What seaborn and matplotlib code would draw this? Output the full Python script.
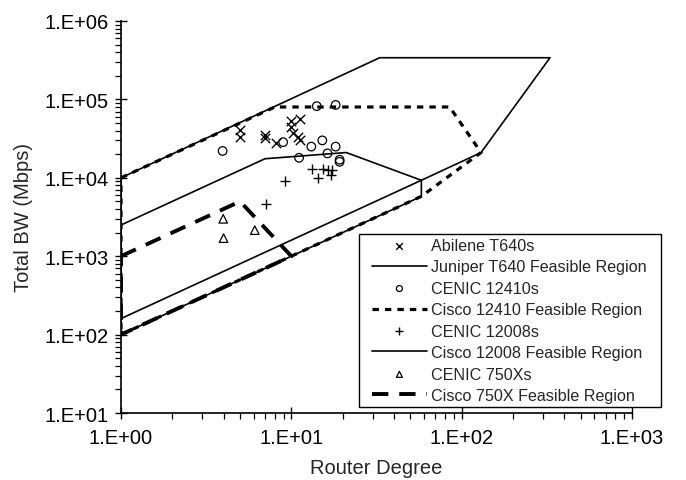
import numpy as np
import pandas as pd
import matplotlib
matplotlib.use("Agg")
import matplotlib.pyplot as plt
from matplotlib.patches import Rectangle
from matplotlib.ticker import FixedLocator, LogLocator, FuncFormatter, NullFormatter
import seaborn as sns

# ---- data ----
abilene_deg = [5.0, 5.0, 7.0, 7.0, 8.1, 10.0, 11.2, 10.0, 10.2, 11.0, 11.3]
abilene_bw = [4.1e4, 3.3e4, 3.5e4, 3.2e4, 2.75e4, 5.3e4, 5.6e4, 4.5e4, 3.7e4, 3.3e4, 3.0e4]

juniper_deg = [1, 58, 58, 130, 330, 33, 1, 1]
juniper_bw = [100, 5800, 9300, 2.1e4, 3.4e5, 3.4e5, 1e4, 100]

c12410_deg = [3.95, 8.95, 11.1, 13.1, 15.2, 16.3, 18.2, 19.2, 19.2, 14.1, 18.2]
c12410_bw = [2.2e4, 2.85e4, 1.8e4, 2.5e4, 3.0e4, 2.05e4, 2.5e4, 1.7e4, 1.6e4, 8.2e4, 8.5e4]

cisco12410_deg = [1, 8, 85, 130, 58, 1, 1]
cisco12410_bw = [1e4, 8e4, 8e4, 2.1e4, 5800, 100, 1e4]

c12008_deg = [9.16, 13.3, 14.4, 15.4, 16.4, 17.4, 17.2, 7.1]
c12008_bw = [9.1e3, 1.3e4, 1.0e4, 1.28e4, 1.25e4, 1.25e4, 1.1e4, 4.6e3]

cisco12008_deg = [1, 7, 21, 58, 1, 1]
cisco12008_bw = [2500, 1.75e4, 2.1e4, 9300, 160, 2500]

c750_deg = [3.98, 4.0, 6.1]
c750_bw = [3.0e3, 1.7e3, 2.15e3]

cisco750_deg = [1, 5, 10, 1, 1]
cisco750_bw = [1000, 5000, 1000, 100, 1000]

x_ticks = [1, 10, 100, 1000]
y_ticks = [10, 100, 1e3, 1e4, 1e5, 1e6]

# ---- style ----
sns.set_style("ticks")
plt.rcParams["font.family"] = ["Liberation Sans", "DejaVu Sans"]

W, H = 686, 481
fig = plt.figure(figsize=(W / 100, H / 100), dpi=100)
ax = fig.add_axes([121 / W, 1 - 414 / H, (632 - 121) / W, (414 - 22) / H])
ax.set_xscale("log")
ax.set_yscale("log")

def region(xs, ys, label, **kw):
    df = pd.DataFrame({"x": xs, "y": ys})
    sns.lineplot(data=df, x="x", y="y", sort=False, estimator=None, color="black",
                 label=label, ax=ax, **kw)

region(juniper_deg, juniper_bw, "Juniper T640 Feasible Region", linewidth=1.2)
region(cisco12410_deg, cisco12410_bw, "Cisco 12410 Feasible Region", linewidth=2.3,
       linestyle=(0, (2.0, 1.9)))
region(cisco12008_deg, cisco12008_bw, "Cisco 12008 Feasible Region", linewidth=1.2)
region(cisco750_deg, cisco750_bw, "Cisco 750X Feasible Region", linewidth=2.8,
       linestyle=(0, (4.2, 2.8)))

sns.scatterplot(x=abilene_deg, y=abilene_bw, marker="x", color="black", s=45,
                linewidth=1.0, label="Abilene T640s", ax=ax, zorder=3)
sns.scatterplot(x=c12410_deg, y=c12410_bw, marker="o", color="black", facecolor="none",
                edgecolor="black", s=38, linewidth=0.9, label="CENIC 12410s", ax=ax, zorder=3)
sns.scatterplot(x=c12008_deg, y=c12008_bw, marker="+", color="black", s=55,
                linewidth=1.0, label="CENIC 12008s", ax=ax, zorder=3)
sns.scatterplot(x=c750_deg, y=c750_bw, marker="^", color="black", facecolor="none",
                edgecolor="black", s=38, linewidth=0.9, label="CENIC 750Xs", ax=ax, zorder=3)

ax.set_xlim(1, 1000)
ax.set_ylim(10, 1e6)

fmt = FuncFormatter(lambda v, p: "1.E+%02d" % int(round(np.log10(v))))
ax.xaxis.set_major_locator(FixedLocator(x_ticks))
ax.yaxis.set_major_locator(FixedLocator(y_ticks))
ax.xaxis.set_major_formatter(fmt)
ax.yaxis.set_major_formatter(fmt)
ax.xaxis.set_minor_locator(LogLocator(base=10, subs=np.arange(2, 10), numticks=20))
ax.yaxis.set_minor_locator(LogLocator(base=10, subs=np.arange(2, 10), numticks=20))
ax.xaxis.set_minor_formatter(NullFormatter())
ax.yaxis.set_minor_formatter(NullFormatter())
ax.tick_params(which="major", direction="inout", length=8, width=1.0, colors="black",
               labelsize=14.5)
ax.tick_params(axis="x", which="major", pad=7)
ax.tick_params(axis="y", which="major", pad=5)
ax.tick_params(which="minor", direction="out", length=4, width=0.9, colors="black")

for s in ["top", "right"]:
    ax.spines[s].set_visible(False)
for s in ["left", "bottom"]:
    ax.spines[s].set_linewidth(1.2)
    ax.spines[s].set_color("black")

ax.set_xlabel("Router Degree", fontsize=14.5, labelpad=7.5)
ax.set_ylabel("Total BW (Mbps)", fontsize=14.5, labelpad=8)

handles, labels = ax.get_legend_handles_labels()
order = ["Abilene T640s", "Juniper T640 Feasible Region", "CENIC 12410s",
         "Cisco 12410 Feasible Region", "CENIC 12008s", "Cisco 12008 Feasible Region",
         "CENIC 750Xs", "Cisco 750X Feasible Region"]
hmap = dict(zip(labels, handles))
leg = ax.legend([hmap[l] for l in order], order, loc="lower left",
                bbox_to_anchor=(372 / W, 1 - 404 / H), bbox_transform=fig.transFigure,
                borderaxespad=0, frameon=False, fontsize=11.6, handlelength=3.4,
                handletextpad=0.25, labelspacing=0.4, borderpad=0, markerscale=0.7)

# legend frame drawn around the legend contents with wider side padding
fig.canvas.draw()
bb = leg.get_window_extent()
frame = Rectangle((bb.x0 - 13, bb.y0 - 4), bb.width + 28, bb.height + 8,
                  transform=None, facecolor="white", edgecolor="black", linewidth=1.0,
                  zorder=4)
fig.add_artist(frame)
leg.set_zorder(5)
leg.remove()
fig.add_artist(leg)

fig.savefig("out.png", dpi=100)
